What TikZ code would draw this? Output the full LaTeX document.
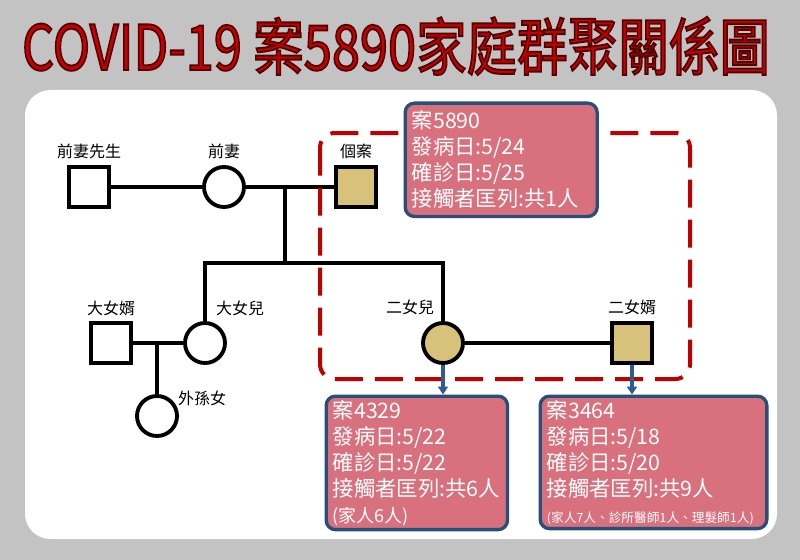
\documentclass[tikz,border=0pt]{standalone}
\usepackage{fontspec}
\setmainfont{Noto Sans CJK TC}
\newfontfamily\titlefont{Noto Sans CJK TC}[FakeBold=3]
\usepackage{graphicx}
\usepackage{xcolor}
\usetikzlibrary{positioning}
\usetikzlibrary{arrows.meta}

\definecolor{bggray}{RGB}{195,195,195}
\definecolor{titlered}{RGB}{196,0,0}
\definecolor{casetan}{RGB}{216,193,122}
\definecolor{caserose}{RGB}{217,112,125}
\definecolor{caseblue}{RGB}{40,78,122}
\definecolor{arrowblue}{RGB}{46,92,142}
\definecolor{dashred}{RGB}{192,0,0}

% red glyphs, dark stroke from the fake bold
\newcommand\charttitle{\resizebox{561pt}{40pt}{\color{titlered}\special{pdf:literal direct 0.32 0 0 RG}\titlefont COVID-19 案5890家庭群聚關係圖}}

\begin{document}
\begin{tikzpicture}[x=0.75pt, y=-0.75pt,
    male/.style={draw, fill=white, line width=2.9pt, minimum size=29.5pt, inner sep=0pt},
    female/.style={circle, draw, fill=white, line width=2.9pt, minimum size=30pt, inner sep=0pt},
    patient/.style={fill=casetan},
    who/.style={font=\fontsize{12pt}{14pt}\selectfont, inner sep=0pt},
    tie/.style={line width=2.5pt},
    infobox/.style={draw=caseblue, fill=caserose, line width=2.5pt, rounded corners=7pt,
        text=white, align=left, anchor=north west, inner xsep=5pt, inner ysep=3pt,
        font=\fontsize{16pt}{19.5pt}\selectfont},
    down/.style={draw=arrowblue, line width=2.4pt, -{Triangle[length=6pt,width=7.5pt]}}
]
    \useasboundingbox (0,0) rectangle (800,560);
    \fill[bggray] (0,0) rectangle (800,560);

    % title
    \node[anchor=base, inner sep=0pt] (title) at (396,70) {\charttitle};

    % white panel
    \fill[white, rounded corners=19pt] (25,90) rectangle (777,539);

    % family members
    \node[male] (exhus) at (89,187) {};
    \node[female] (exwife) at (224,187) {};
    \node[male, patient] (index) at (356,187) {};
    \node[male] (son1) at (111,343) {};
    \node[female] (dau1) at (205,343) {};
    \node[female] (grand) at (157,416) {};
    \node[female, patient] (dau2) at (443,343) {};
    \node[male, patient] (son2) at (632,343) {};

    \node[who] (lexhus) at (89,151) {前妻先生};
    \node[who] (lexwife) at (224,151) {前妻};
    \node[who] (lindex) at (356,151) {個案};
    \node[who] (lson1) at (111,308) {大女婿};
    \node[who] (ldau1) at (240,308) {大女兒};
    \node[who] (lgrand) at (202,398) {外孫女};
    \node[who] (ldau2) at (410,307) {二女兒};
    \node[who] (lson2) at (632,307) {二女婿};

    % marriages and children
    \coordinate (wed1) at (285,187);
    \coordinate (kids) at (285,263);
    \coordinate (wed2) at (157,343);
    \draw[tie] (exhus) -- (exwife);
    \draw[tie] (exwife) -- (index);
    \draw[tie] (wed1) -- (kids);
    \draw[tie] (dau1.north) |- (kids) -| (dau2.north);
    \draw[tie] (son1) -- (dau1);
    \draw[tie] (wed2) -- (grand.north);
    \draw[tie] (dau2) -- (son2);

    % cluster
    \draw[dashred, line width=3pt, dash pattern=on 21pt off 9pt, rounded corners=11pt]
        (320,133) rectangle (690,379);

    % case boxes
    \node[infobox, text width=134pt, minimum height=85pt] (case5890) at (403.5,101.5)
        {案5890\\發病日:5/24\\確診日:5/25\\接觸者匡列:共1人};
    \node[infobox, text width=126pt, minimum height=95pt] (case4329) at (324.5,394.5)
        {案4329\\發病日:5/22\\確診日:5/22\\接觸者匡列:共6人\\{\fontsize{13.5pt}{15pt}\selectfont (家人6人)}};
    \node[infobox, text width=160pt, minimum height=99pt] (case3464) at (538.5,394.5)
        {案3464\\發病日:5/18\\確診日:5/20\\接觸者匡列:共9人\\{\fontsize{9.5pt}{12pt}\selectfont (家人7人、診所醫師1人、理髮師1人)}};

    \draw[down] (dau2.south) -- (dau2.south |- case4329.north);
    \draw[down] (son2.south) -- (son2.south |- case3464.north);
\end{tikzpicture}
\end{document}
